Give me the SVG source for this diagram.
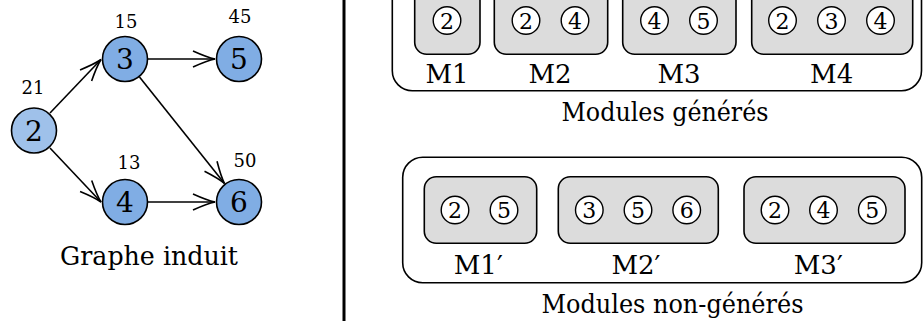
<svg xmlns="http://www.w3.org/2000/svg" width="923" height="321" viewBox="0 0 923 321">
<style>
text{font-family:"DejaVu Serif","Liberation Serif","Times New Roman",serif;fill:#000}
.big{font-size:28px;text-anchor:middle}
.w{font-size:18px;text-anchor:middle}
.cap{font-size:26px;text-anchor:middle}
.lab{font-size:26px;text-anchor:middle}
.sm{font-size:22px;text-anchor:middle}
.gn{fill:#80ade4;stroke:#000;stroke-width:1.6}
.gn2{fill:#9fc1ea;stroke:#000;stroke-width:1.6}
.outer{fill:#fff;stroke:#000;stroke-width:1.6}
.inner{fill:#dcdcdc;stroke:#000;stroke-width:1.6}
.mc{fill:#fff;stroke:#000;stroke-width:1.4}
.edge{fill:none;stroke:#000;stroke-width:1.6}
</style>
<defs>
<marker id="arr" viewBox="-25 -10 27 20" refX="0" refY="0" markerWidth="27" markerHeight="20" markerUnits="userSpaceOnUse" orient="auto">
<path d="M-22,-8 C-12,-3.5 -4,-0.8 0,0 C-4,0.8 -12,3.5 -22,8" fill="none" stroke="#000" stroke-width="1.6"/>
</marker>
</defs>
<rect width="923" height="321" fill="#fff"/>

<g id="connectors">
<line class="edge" x1="50" y1="113" x2="101" y2="59.5" marker-end="url(#arr)"/>
<line class="edge" x1="50" y1="148" x2="101" y2="202" marker-end="url(#arr)"/>
<line class="edge" x1="148" y1="59" x2="215" y2="59" marker-end="url(#arr)"/>
<line class="edge" x1="148" y1="202" x2="215" y2="202" marker-end="url(#arr)"/>
<line class="edge" x1="139.5" y1="77" x2="224.5" y2="183.5" marker-end="url(#arr)"/>
</g>

<g id="node2"><circle class="gn2" cx="34" cy="130.5" r="22.5"/><text class="big" x="34" y="140.5">2</text><text class="w" x="33" y="94">21</text></g>
<g id="node3"><circle class="gn" cx="125" cy="59" r="22.5"/><text class="big" x="125" y="69">3</text><text class="w" x="126" y="28">15</text></g>
<g id="node5"><circle class="gn" cx="239" cy="59" r="22.5"/><text class="big" x="239" y="69">5</text><text class="w" x="240" y="22.5">45</text></g>
<g id="node4"><circle class="gn" cx="125" cy="202" r="22.5"/><text class="big" x="125" y="212">4</text><text class="w" x="129" y="169">13</text></g>
<g id="node6"><circle class="gn" cx="239" cy="202" r="22.5"/><text class="big" x="239" y="212">6</text><text class="w" x="245" y="167">50</text></g>
<text class="cap" x="149" y="265" textLength="178" lengthAdjust="spacingAndGlyphs">Graphe induit</text>

<line x1="344" y1="0" x2="344" y2="321" stroke="#000" stroke-width="3"/>

<g id="generes">
<rect class="outer" x="392.3" y="-35" width="529.2" height="125.7" rx="20"/>
<g id="M1"><rect class="inner" x="414.7" y="-13" width="65.3" height="67.3" rx="12"/>
<circle class="mc" cx="447" cy="20.5" r="13.8"/><text class="sm" x="447" y="28.5">2</text>
<text class="lab" x="447" y="82.5">M1</text></g>
<g id="M2"><rect class="inner" x="494.3" y="-13" width="113.4" height="67.3" rx="12"/>
<circle class="mc" cx="526" cy="20.5" r="13.8"/><text class="sm" x="526" y="28.5">2</text>
<circle class="mc" cx="575" cy="20.5" r="13.8"/><text class="sm" x="575" y="28.5">4</text>
<text class="lab" x="550" y="82.5">M2</text></g>
<g id="M3"><rect class="inner" x="622.7" y="-13" width="113.3" height="67.3" rx="12"/>
<circle class="mc" cx="654.5" cy="20.5" r="13.8"/><text class="sm" x="654.5" y="28.5">4</text>
<circle class="mc" cx="703.5" cy="20.5" r="13.8"/><text class="sm" x="703.5" y="28.5">5</text>
<text class="lab" x="679" y="82.5">M3</text></g>
<g id="M4"><rect class="inner" x="751.7" y="-13" width="161" height="67.3" rx="12"/>
<circle class="mc" cx="782.5" cy="20.5" r="13.8"/><text class="sm" x="782.5" y="28.5">2</text>
<circle class="mc" cx="831.5" cy="20.5" r="13.8"/><text class="sm" x="831.5" y="28.5">3</text>
<circle class="mc" cx="880.5" cy="20.5" r="13.8"/><text class="sm" x="880.5" y="28.5">4</text>
<text class="lab" x="831.7" y="82.5">M4</text></g>
<text class="cap" x="665" y="121.3" textLength="207" lengthAdjust="spacingAndGlyphs">Modules générés</text>
</g>

<g id="nongeneres">
<rect class="outer" x="402.7" y="157.3" width="519" height="125.4" rx="20"/>
<g id="M1p"><rect class="inner" x="424.3" y="176.7" width="112.4" height="66.6" rx="12"/>
<circle class="mc" cx="455" cy="210" r="13.8"/><text class="sm" x="455" y="218">2</text>
<circle class="mc" cx="504" cy="210" r="13.8"/><text class="sm" x="504" y="218">5</text>
<text class="lab" x="478.3" y="274">M1′</text></g>
<g id="M2p"><rect class="inner" x="558.3" y="176.7" width="160" height="66.6" rx="12"/>
<circle class="mc" cx="589.3" cy="210" r="13.8"/><text class="sm" x="589.3" y="218">3</text>
<circle class="mc" cx="638" cy="210" r="13.8"/><text class="sm" x="638" y="218">5</text>
<circle class="mc" cx="686.7" cy="210" r="13.8"/><text class="sm" x="686.7" y="218">6</text>
<text class="lab" x="636" y="274">M2′</text></g>
<g id="M3p"><rect class="inner" x="744" y="176.7" width="161" height="66.6" rx="12"/>
<circle class="mc" cx="775" cy="210" r="13.8"/><text class="sm" x="775" y="218">2</text>
<circle class="mc" cx="823.5" cy="210" r="13.8"/><text class="sm" x="823.5" y="218">4</text>
<circle class="mc" cx="872.3" cy="210" r="13.8"/><text class="sm" x="872.3" y="218">5</text>
<text class="lab" x="818.3" y="274">M3′</text></g>
<text class="cap" x="672.5" y="313.3" textLength="262" lengthAdjust="spacingAndGlyphs">Modules non-générés</text>
</g>
</svg>
